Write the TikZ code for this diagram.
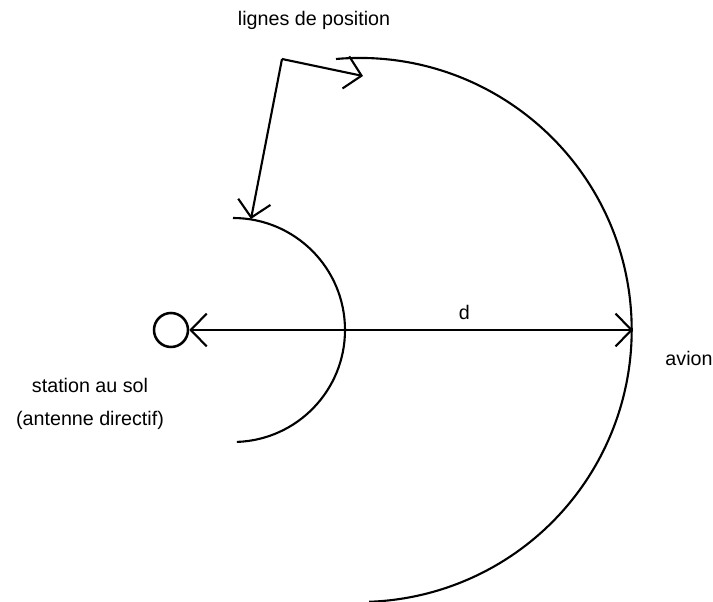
\documentclass[tikz,border=0pt]{standalone}
\usepackage{fontspec}
\setmainfont{Liberation Sans}
\usetikzlibrary{arrows.meta}

\begin{document}
\begin{tikzpicture}[x=0.025cm, y=-0.025cm, line width=1.5pt,
    >={Straight Barb[length=4mm,width=8.2mm]},
    texte/.style={font=\fontsize{14}{23}\selectfont}]

    \useasboundingbox (0,0) rectangle (713,602);

    % --- STATION AU SOL ---
    \node[circle, draw, line width=1.8pt, minimum size=34*0.025cm, inner sep=0pt] (station) at (171,330) {};
    \node[texte, align=center] (stationlabel) at (90,404) {station au sol\\(antenne directif)};

    % --- LIGNES DE POSITION (arcs) ---
    \draw (233,218) arc[start angle=-90, end angle=88, radius=112];
    \draw (336,59) arc[start angle=-95, end angle=88, radius=272];

    % --- DISTANCE d ---
    \coordinate (avionpt) at (633,330);
    \draw[<->] (station.east) -- (avionpt) node[texte, pos=0.62, above=3pt] (dlabel) {d};
    \node[texte] (avion) at (689,358) {avion};

    % --- RENVOI ---
    \node[texte] (lignes) at (314,20) {lignes de position};
    \coordinate (coin) at (282,59);
    \coordinate (pointpetit) at (251,219);
    \coordinate (pointgrand) at (363,76);
    \draw[->] (coin) -- (pointpetit);
    \draw[->] (coin) -- (pointgrand);

\end{tikzpicture}
\end{document}
